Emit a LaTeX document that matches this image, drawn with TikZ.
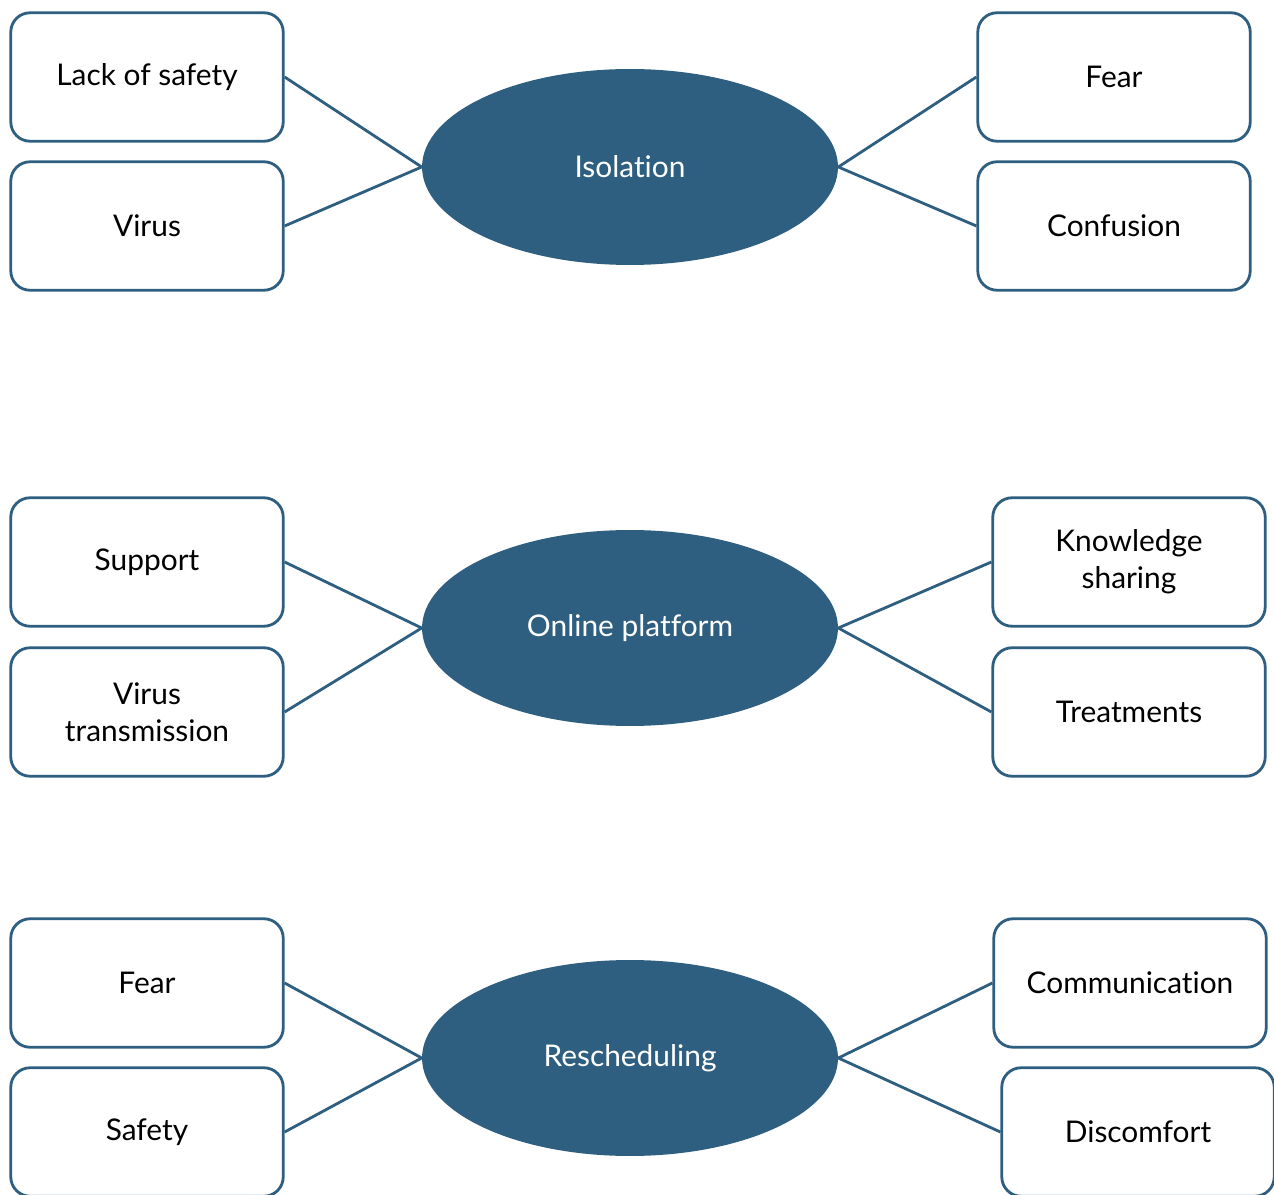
\documentclass[tikz,border=0pt]{standalone}
\usepackage{fontspec}
\setmainfont{Lato}[Ligatures=NoCommon]
\usepackage{tikz}
\usetikzlibrary{positioning, shapes.geometric}
\usepackage{xcolor}
\definecolor{themeblue}{RGB}{46, 95, 128}

\begin{document}
\begin{tikzpicture}[
    x=0.02cm, y=-0.02cm,
    factor/.style={draw=themeblue, line width=1.6pt, rounded corners=11pt,
                   fill=white, minimum width=5.45cm, minimum height=2.57cm,
                   align=center, font=\fontsize{17}{21}\selectfont},
    topic/.style={ellipse, fill=themeblue, text=white, inner sep=0pt,
                  minimum width=8.32cm, minimum height=3.92cm,
                  font=\fontsize{17}{20}\selectfont},
    link/.style={themeblue, line width=1.6pt},
  ]
    \useasboundingbox (0,0) rectangle (1274,1195);

    % Isolation
    \node[topic] (iso) at (630,167) {Isolation};
    \node[factor] (safetylack) at (147,77) {Lack of safety};
    \node[factor] (virus) at (147,226) {Virus};
    \node[factor] (fearA) at (1114,77) {Fear};
    \node[factor] (confusion) at (1114,226) {Confusion};

    % Online platform
    \node[topic] (online) at (630,628) {Online platform};
    \node[factor] (support) at (147,562) {Support};
    \node[factor] (transmission) at (147,712) {Virus\\transmission};
    \node[factor] (knowledge) at (1129,562) {Knowledge\\sharing};
    \node[factor] (treatments) at (1129,712) {Treatments};

    % Rescheduling
    \node[topic] (resched) at (630,1058) {Rescheduling};
    \node[factor] (fearB) at (147,983) {Fear};
    \node[factor] (safety) at (147,1132) {Safety};
    \node[factor] (communication) at (1130,983) {Communication};
    \node[factor] (discomfort) at (1138,1132) {Discomfort};

    % Links
    \draw[link] (safetylack.east) -- (iso.west);
    \draw[link] (virus.east) -- (iso.west);
    \draw[link] (iso.east) -- (fearA.west);
    \draw[link] (iso.east) -- (confusion.west);

    \draw[link] (support.east) -- (online.west);
    \draw[link] (transmission.east) -- (online.west);
    \draw[link] (online.east) -- (knowledge.west);
    \draw[link] (online.east) -- (treatments.west);

    \draw[link] (fearB.east) -- (resched.west);
    \draw[link] (safety.east) -- (resched.west);
    \draw[link] (resched.east) -- (communication.west);
    \draw[link] (resched.east) -- (discomfort.west);
  \end{tikzpicture}
\end{document}
